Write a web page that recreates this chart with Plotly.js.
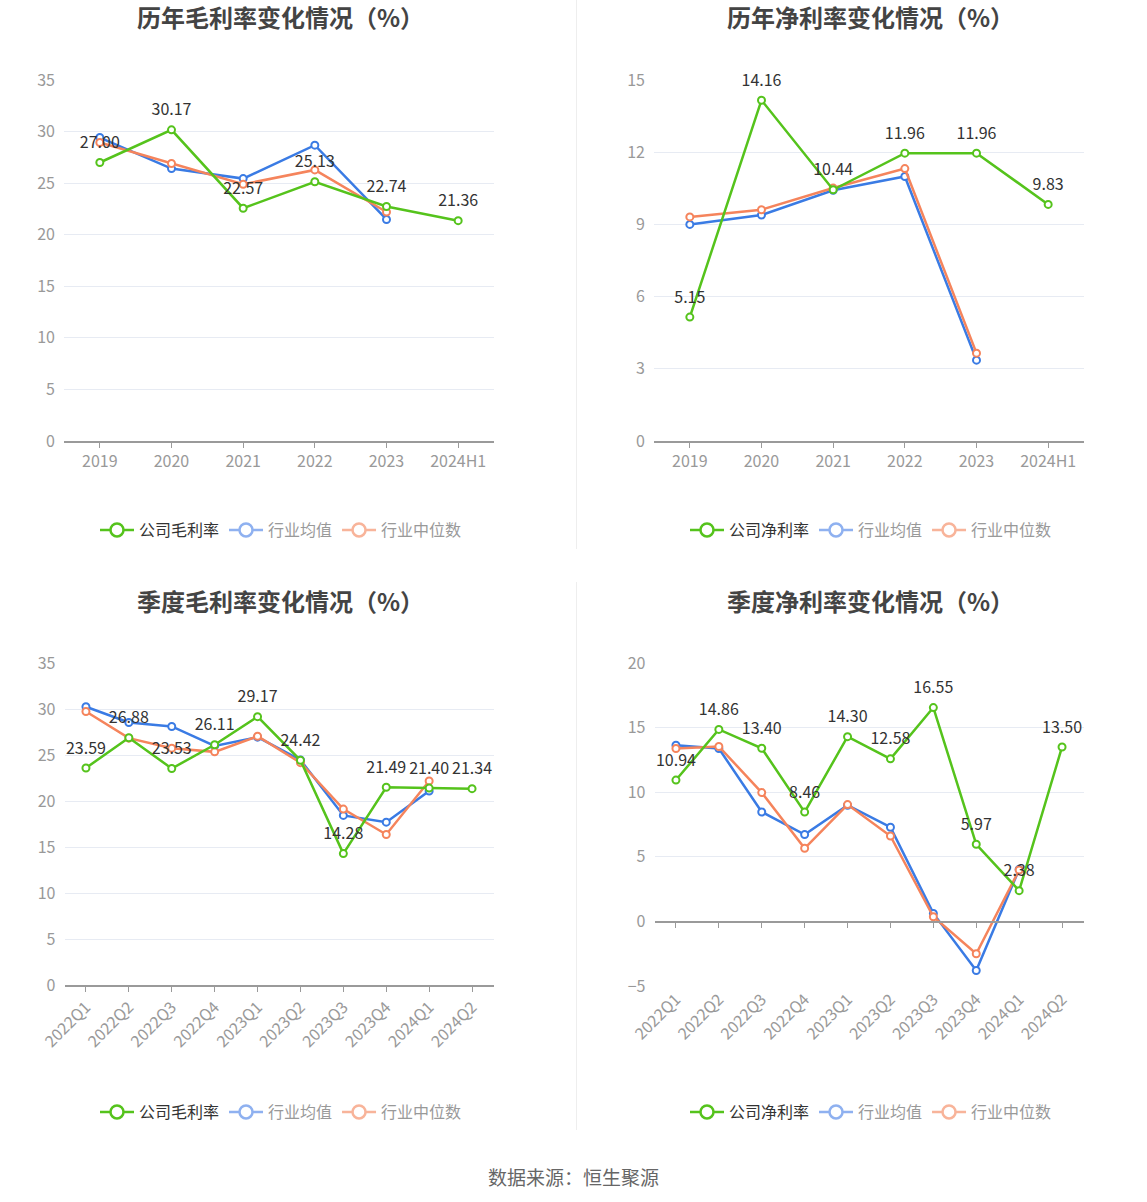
<!DOCTYPE html>
<html>
<head>
<meta charset="utf-8">
<script src="https://cdn.plot.ly/plotly-3.0.1.min.js"></script>
<style>html,body{margin:0;padding:0;background:#fff;}#chart{width:1147px;height:1202px;}</style>
</head>
<body>
<div id="chart"></div>
<script>
// ---- data ----
const yearCats = ['2019', '2020', '2021', '2022', '2023', '2024H1'];
const quarterCats = ['2022Q1', '2022Q2', '2022Q3', '2022Q4', '2023Q1', '2023Q2', '2023Q3', '2023Q4', '2024Q1', '2024Q2'];

const annualGrossCompany = [27.00, 30.17, 22.57, 25.13, 22.74, 21.36];
const annualGrossMean = [29.42, 26.41, 25.44, 28.68, 21.48];
const annualGrossMedian = [28.94, 26.90, 24.89, 26.28, 22.20];

const annualNetCompany = [5.15, 14.16, 10.44, 11.96, 11.96, 9.83];
const annualNetMean = [9.00, 9.39, 10.42, 10.99, 3.36];
const annualNetMedian = [9.31, 9.61, 10.51, 11.32, 3.65];

const qGrossCompany = [23.59, 26.88, 23.53, 26.11, 29.17, 24.42, 14.28, 21.49, 21.40, 21.34];
const qGrossMean = [30.24, 28.53, 28.10, 25.99, 26.94, 24.46, 18.43, 17.70, 21.08];
const qGrossMedian = [29.73, 26.83, 25.74, 25.34, 27.04, 24.17, 19.12, 16.36, 22.17];

const qNetCompany = [10.94, 14.86, 13.40, 8.46, 14.30, 12.58, 16.55, 5.97, 2.38, 13.50];
const qNetMean = [13.64, 13.38, 8.47, 6.72, 8.99, 7.29, 0.62, -3.80, 4.03];
const qNetMedian = [13.38, 13.54, 9.97, 5.66, 9.04, 6.61, 0.36, -2.50, 3.98];

const titles = ['历年毛利率变化情况（%）', '历年净利率变化情况（%）', '季度毛利率变化情况（%）', '季度净利率变化情况（%）'];
const companyNames = ['公司毛利率', '公司净利率', '公司毛利率', '公司净利率'];
const meanName = '行业均值';
const medianName = '行业中位数';
const sourceText = '数据来源：恒生聚源';

// ---- style ----
const W = 1147, H = 1202;
const GREEN = '#55c31c', BLUE = '#3a7be4', ORANGE = '#f5845c';
const BLUE_L = '#8fb1f0', ORANGE_L = '#f8b49a';
const FONT = '"Noto Sans CJK SC", "Noto Sans", sans-serif';
const px = v => v / W;
const py = v => 1 - v / H;

const panels = [
  {cats: yearCats, comp: annualGrossCompany, mean: annualGrossMean, med: annualGrossMedian, range: [0, 35], dtick: 5, xd: [64, 494], yd: [441, 80]},
  {cats: yearCats, comp: annualNetCompany, mean: annualNetMean, med: annualNetMedian, range: [0, 15], dtick: 3, xd: [654, 1084], yd: [441, 80]},
  {cats: quarterCats, comp: qGrossCompany, mean: qGrossMean, med: qGrossMedian, range: [0, 35], dtick: 5, xd: [64.5, 493.5], yd: [985, 663]},
  {cats: quarterCats, comp: qNetCompany, mean: qNetMean, med: qNetMedian, range: [-5, 20], dtick: 5, xd: [654.5, 1083.5], yd: [986, 663]}
];

const data = [];
const layout = {
  width: W, height: H,
  margin: {l: 0, r: 0, t: 0, b: 0},
  paper_bgcolor: '#fff', plot_bgcolor: '#fff',
  font: {family: FONT, color: '#999', size: 16},
  showlegend: true,
  annotations: [],
  shapes: [
    {type: 'line', xref: 'paper', yref: 'paper', x0: px(576.5), x1: px(576.5), y0: py(0), y1: py(549), line: {color: '#eeeeee', width: 1}},
    {type: 'line', xref: 'paper', yref: 'paper', x0: px(576.5), x1: px(576.5), y0: py(582), y1: py(1130), line: {color: '#eeeeee', width: 1}}
  ]
};

const titleY = [17, 17, 600, 600];
const legendY = [530, 530, 1112, 1112];

panels.forEach((p, i) => {
  const n = i + 1;
  const xa = 'x' + (n === 1 ? '' : n), ya = 'y' + (n === 1 ? '' : n);
  const legendId = 'legend' + (n === 1 ? '' : n);
  const rotated = p.cats.length > 6;
  const mk = c => ({symbol: 'circle', size: 7, color: '#fff', line: {color: c, width: 2}});

  data.push({x: p.cats.slice(0, p.mean.length), y: p.mean, xaxis: xa, yaxis: ya, mode: 'lines+markers', type: 'scatter',
    line: {color: BLUE, width: 2.5}, marker: mk(BLUE), showlegend: false, hoverinfo: 'skip', cliponaxis: false});
  data.push({x: p.cats.slice(0, p.med.length), y: p.med, xaxis: xa, yaxis: ya, mode: 'lines+markers', type: 'scatter',
    line: {color: ORANGE, width: 2.5}, marker: mk(ORANGE), showlegend: false, hoverinfo: 'skip', cliponaxis: false});
  data.push({x: p.cats, y: p.comp, xaxis: xa, yaxis: ya, mode: 'lines+markers', type: 'scatter',
    line: {color: GREEN, width: 2.5}, marker: mk(GREEN), showlegend: false, hoverinfo: 'skip', cliponaxis: false});
  // value labels of the company series (invisible larger markers give the label offset)
  data.push({x: p.cats, y: p.comp, xaxis: xa, yaxis: ya, mode: 'markers+text', type: 'scatter',
    text: p.comp.map(v => v.toFixed(2)), textposition: 'top center', textfont: {size: 16, color: '#333', family: FONT},
    marker: {size: 15, color: 'rgba(0,0,0,0)'}, showlegend: false, hoverinfo: 'skip', cliponaxis: false});

  // legend-only entries
  const lmk = c => ({symbol: 'circle', size: 13, color: '#fff', line: {color: c, width: 2.5}});
  data.push({x: [null], y: [null], xaxis: xa, yaxis: ya, mode: 'lines+markers', type: 'scatter', name: '<span style="color:#333">' + companyNames[i] + '</span>',
    line: {color: GREEN, width: 2.5}, marker: lmk(GREEN), legend: legendId, hoverinfo: 'skip'});
  data.push({x: [null], y: [null], xaxis: xa, yaxis: ya, mode: 'lines+markers', type: 'scatter', name: meanName,
    line: {color: BLUE_L, width: 2.5}, marker: lmk(BLUE_L), legend: legendId, hoverinfo: 'skip'});
  data.push({x: [null], y: [null], xaxis: xa, yaxis: ya, mode: 'lines+markers', type: 'scatter', name: medianName,
    line: {color: ORANGE_L, width: 2.5}, marker: lmk(ORANGE_L), legend: legendId, hoverinfo: 'skip'});

  const isNeg = p.range[0] < 0;
  layout['xaxis' + (n === 1 ? '' : n)] = {
    domain: [px(p.xd[0]), px(p.xd[1])], anchor: ya, type: 'category', categoryorder: 'array', categoryarray: p.cats,
    range: [-0.5, p.cats.length - 0.5], fixedrange: true,
    showline: !isNeg, linecolor: '#9a9a9a', linewidth: 1.5,
    ticks: isNeg ? '' : 'outside', ticklen: 5, tickcolor: '#9a9a9a', tickwidth: 1,
    tickangle: rotated ? -45 : 0, tickfont: {size: 16, color: '#999', family: FONT},
    showgrid: false, zeroline: false, automargin: false
  };
  layout['yaxis' + (n === 1 ? '' : n)] = {
    domain: [py(p.yd[0]), py(p.yd[1])], anchor: xa, range: p.range, dtick: p.dtick, tick0: 0,
    showgrid: true, gridcolor: '#e7ebf3', gridwidth: 1, zeroline: false, showline: false,
    ticks: '', tickfont: {size: 16, color: '#999', family: FONT}, ticklabelstandoff: 8, fixedrange: true, automargin: false
  };

  layout[legendId] = {
    orientation: 'h', x: px((p.xd[0] + p.xd[1]) / 2 + 2), xanchor: 'center', y: py(legendY[i]), yanchor: 'middle',
    font: {size: 16, color: '#999', family: FONT}, bgcolor: 'rgba(0,0,0,0)', itemwidth: 34, tracegroupgap: 0
  };

  layout.annotations.push({
    text: '<b>' + titles[i] + '</b>', xref: 'paper', yref: 'paper', x: px((p.xd[0] + p.xd[1]) / 2 + 1), y: py(titleY[i]),
    xanchor: 'center', yanchor: 'middle', showarrow: false, font: {size: 24, color: '#444', family: FONT}
  });
});

// zero-line axis for the quarterly net margin panel
const p4 = panels[3];
const y4dom = layout.yaxis4.domain;
const zeroPos = y4dom[0] + (0 - p4.range[0]) / (p4.range[1] - p4.range[0]) * (y4dom[1] - y4dom[0]);
layout.xaxis5 = {
  overlaying: 'x4', anchor: 'free', position: zeroPos, type: 'category', categoryorder: 'array', categoryarray: quarterCats,
  range: [-0.5, quarterCats.length - 0.5], showline: true, linecolor: '#9a9a9a', linewidth: 1.5,
  ticks: 'outside', ticklen: 5, tickcolor: '#9a9a9a', showticklabels: false, showgrid: false, zeroline: false, fixedrange: true
};
data.push({x: quarterCats, y: quarterCats.map(() => null), xaxis: 'x5', yaxis: 'y4', mode: 'lines', type: 'scatter', showlegend: false, hoverinfo: 'skip'});

layout.annotations.push({
  text: sourceText, xref: 'paper', yref: 'paper', x: px(573), y: py(1176), xanchor: 'center', yanchor: 'middle',
  showarrow: false, font: {size: 19, color: '#666', family: FONT}
});

Plotly.newPlot('chart', data, layout, {staticPlot: true, displayModeBar: false});
</script>
</body>
</html>
